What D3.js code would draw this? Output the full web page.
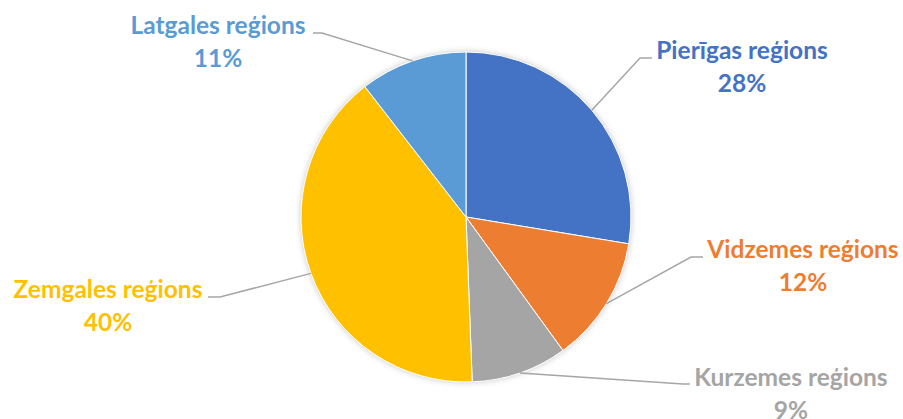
<!DOCTYPE html>
<html><head><meta charset="utf-8">
<script src="https://cdn.jsdelivr.net/npm/d3@7"></script>
<style>
html,body{margin:0;padding:0;background:#fff;}
svg{display:block;}
text{font-family:Lato,"Open Sans",sans-serif;font-weight:bold;}
</style></head>
<body>
<svg id="chart" width="903" height="419"></svg>
<script>
const regions = ["Pierīgas reģions","Vidzemes reģions","Kurzemes reģions","Zemgales reģions","Latgales reģions"];
const shares = [27.6, 12.4, 9.4, 40.1, 10.5];
const colors = ["#4472C4","#ED7D31","#A5A5A5","#FFC000","#5B9BD5"];

// label layout: centre x / first baseline of label, elbow end of leader
const labelPos = [
  {x:742, y:59, ex:640, lx:652},
  {x:803, y:258, ex:691, lx:703},
  {x:791, y:386, ex:683, lx:690},
  {x:108, y:298, ex:220, lx:208},
  {x:218, y:34, ex:322, lx:313}
];

const W=903, H=419, cx=466, cy=217, R=165;
const svg = d3.select("#chart");
const defs = svg.append("defs");
const f = defs.append("filter").attr("id","sh").attr("x","-20%").attr("y","-20%").attr("width","140%").attr("height","140%");
f.append("feDropShadow").attr("dx",0).attr("dy",0).attr("stdDeviation",3).attr("flood-color","#000").attr("flood-opacity",0.25);

const pie = d3.pie().sort(null).value(d=>d);
const arcs = pie(shares);
const arc = d3.arc().innerRadius(0).outerRadius(R);
const g = svg.append("g").attr("transform",`translate(${cx},${cy})`);

g.append("circle").attr("r",R).attr("fill","#fff").attr("filter","url(#sh)");
g.selectAll("path.slice").data(arcs).join("path").attr("class","slice")
  .attr("d",arc).attr("fill",(d,i)=>colors[i]).attr("stroke","#fff").attr("stroke-width",1);

// leader lines
const edge = d3.arc().innerRadius(R).outerRadius(R);
arcs.forEach((d,i)=>{
  const p = edge.centroid(d);
  const L = labelPos[i];
  const y = L.y - 1 + (i===2 ? -1 : 0);
  svg.append("polyline")
    .attr("points",`${cx+p[0]},${cy+p[1]} ${L.ex},${y} ${L.lx},${y}`)
    .attr("fill","none").attr("stroke","#A6A6A6").attr("stroke-width",1.5);
});

// labels
arcs.forEach((d,i)=>{
  const L = labelPos[i];
  const t = svg.append("text").attr("text-anchor","middle").attr("fill",colors[i]).style("font-size","24.5px");
  t.append("tspan").attr("x",L.x).attr("y",L.y).text(regions[i]);
  t.append("tspan").attr("x",L.x).attr("y",L.y+33).text(Math.round(shares[i])+"%");
});
</script>
</body></html>
